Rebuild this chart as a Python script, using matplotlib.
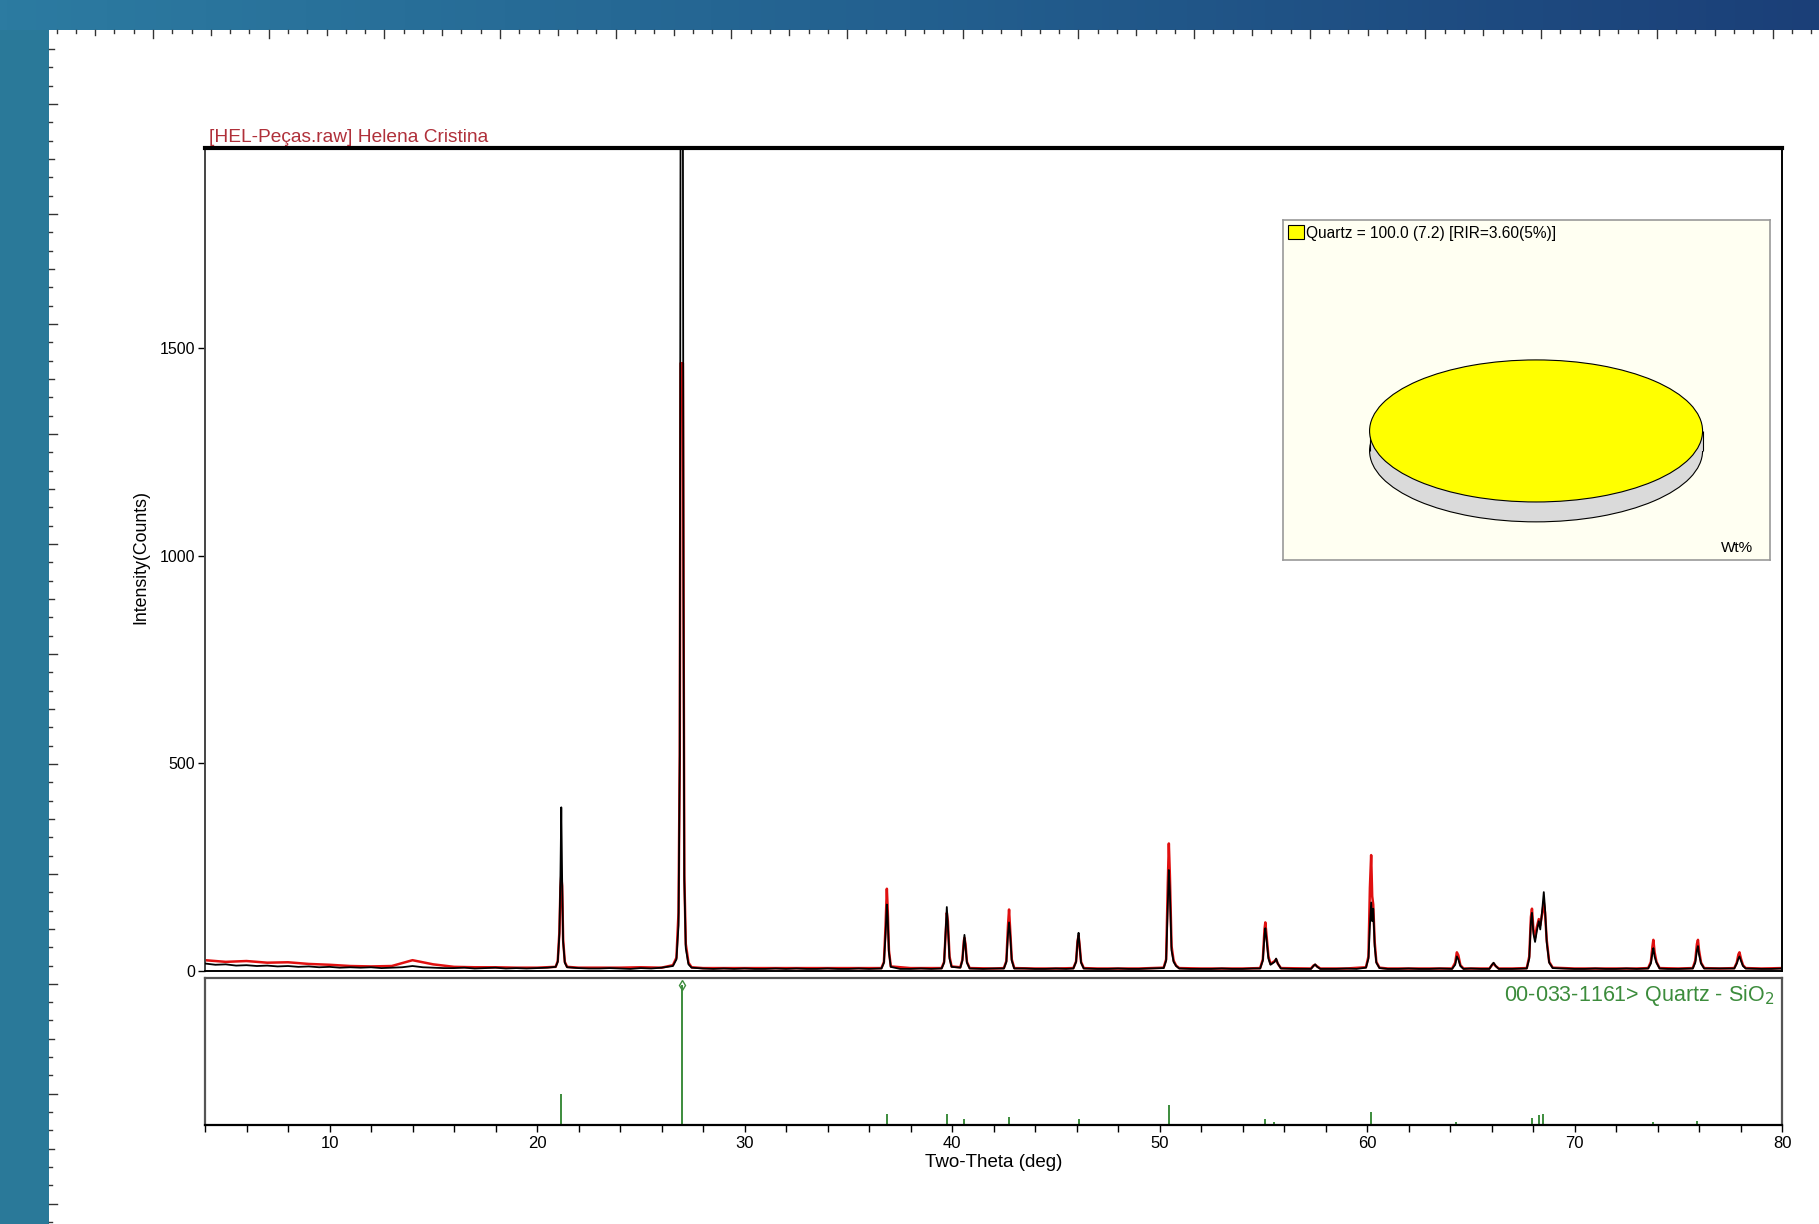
import numpy as np
import matplotlib.pyplot as plt
from matplotlib.patches import Rectangle
from matplotlib.colors import LinearSegmentedColormap

plt.rcParams['font.family'] = ['Liberation Sans', 'DejaVu Sans']

# ---------------- data ----------------
# baseline of the black scan, every 0.5 deg from 4 to 80
base_theta = np.arange(4.0, 80.01, 0.5)
base_black = [18, 15, 16, 13, 14, 12, 13, 11, 12, 10, 11, 9,
              10, 8, 9, 8, 9, 7, 8, 9, 12, 9, 8, 7,
              7, 8, 6, 7, 8, 6, 7, 6, 7, 8, 7, 6,
              7, 6, 6, 7, 6, 5, 7, 6, 8, 6, 6, 7,
              6, 5, 6, 5, 6, 5, 5, 6, 5, 6, 5, 5,
              6, 5, 5, 6, 5, 5, 6, 5, 5, 6, 5, 5,
              5, 6, 5, 5, 6, 5, 5, 6, 5, 5, 6, 5,
              5, 6, 5, 5, 6, 5, 5, 6, 5, 5, 6, 5,
              5, 5, 6, 5, 5, 6, 5, 5, 6, 5, 5, 6,
              5, 5, 6, 5, 5, 6, 5, 5, 6, 5, 5, 6,
              5, 5, 6, 5, 5, 6, 5, 5, 6, 5, 5, 6,
              5, 5, 6, 5, 5, 6, 5, 5, 6, 5, 5, 6,
              5, 5, 6, 5, 5, 6, 5, 5, 6]

# baseline of the red scan, every 1 deg from 4 to 80
red_base_theta = np.arange(4, 81)
base_red = [26, 22, 24, 20, 21, 17, 15, 12, 11, 12,
            26, 16, 10, 9, 9, 8, 8, 8, 8, 8,
            8, 9, 8, 7, 7, 7, 7, 7, 7, 7,
            7, 7, 7, 7, 7, 7, 7, 6, 6, 6,
            6, 6, 6, 6, 6, 6, 6, 6, 6, 6,
            6, 6, 6, 6, 6, 6, 6, 6, 6, 6,
            6, 6, 6, 6, 6, 6, 6, 6, 6, 6,
            6, 6, 6, 6, 6, 6, 7]

# peak profiles (2-theta vertices, black counts, red counts)
peak_theta = [20.9, 21.0, 21.08, 21.13, 21.17, 21.21, 21.26, 21.34, 21.45,
              26.55, 26.72, 26.82, 26.88, 26.92, 27.03, 27.06, 27.1, 27.17, 27.3, 27.45,
              36.6, 36.72, 36.8, 36.86, 36.9, 36.96, 37.05,
              39.5, 39.62, 39.7, 39.75, 39.8, 39.88, 39.98,
              40.4, 40.5, 40.57, 40.6, 40.65, 40.72, 40.85,
              42.5, 42.62, 42.7, 42.75, 42.8, 42.88, 43.0,
              45.85, 45.98, 46.05, 46.1, 46.15, 46.22, 46.35,
              50.2, 50.32, 50.4, 50.45, 50.5, 50.58, 50.68, 50.8, 50.95,
              54.85, 54.98, 55.06, 55.1, 55.16, 55.25, 55.35, 55.55, 55.62, 55.7, 55.85,
              57.3, 57.42, 57.5, 57.6, 57.75,
              59.95, 60.07, 60.14, 60.2, 60.25, 60.3, 60.37, 60.45, 60.6,
              64.1, 64.25, 64.33, 64.4, 64.5, 64.65,
              65.9, 66.02, 66.1, 66.2, 66.35,
              67.7, 67.82, 67.9, 67.95, 68.02, 68.1, 68.18, 68.28, 68.35, 68.45, 68.52,
              68.58, 68.66, 68.78, 68.95,
              73.55, 73.68, 73.76, 73.8, 73.86, 73.95, 74.1,
              75.7, 75.82, 75.9, 75.95, 76.0, 76.1, 76.25,
              77.7, 77.82, 77.9, 77.95, 78.02, 78.12, 78.25]
peak_black = [10, 22, 90, 230, 394, 225, 70, 20, 9,
              12, 28, 110, 520, 2100, 2100, 913, 218, 55, 16, 8,
              6, 20, 90, 160, 130, 45, 10,
              6, 20, 100, 154, 110, 30, 10,
              8, 25, 70, 87, 60, 20, 6,
              6, 22, 90, 117, 90, 25, 6,
              6, 22, 70, 92, 60, 20, 6,
              7, 25, 160, 243, 190, 50, 22, 12, 6,
              6, 25, 85, 103, 75, 30, 15, 22, 30, 18, 6,
              5, 12, 16, 10, 5,
              8, 30, 110, 165, 120, 150, 60, 20, 7,
              5, 15, 35, 28, 12, 5,
              5, 15, 20, 12, 5,
              6, 30, 120, 140, 90, 70, 95, 120, 100, 150, 190,
              150, 70, 20, 7,
              6, 18, 45, 55, 35, 20, 6,
              6, 20, 50, 60, 40, 18, 6,
              6, 18, 30, 35, 25, 12, 6]
peak_red = [10, 24, 95, 200, 229, 205, 75, 22, 10,
            14, 32, 140, 522, 1463, 1463, 913, 230, 65, 20, 9,
            7, 22, 110, 198, 150, 50, 11,
            7, 22, 95, 140, 120, 35, 11,
            9, 27, 72, 80, 65, 22, 7,
            7, 24, 110, 148, 100, 28, 7,
            7, 23, 72, 85, 62, 22, 7,
            8, 28, 210, 307, 230, 60, 25, 13, 7,
            7, 28, 100, 117, 85, 35, 17, 24, 28, 18, 7,
            6, 13, 15, 11, 6,
            9, 35, 200, 279, 180, 160, 70, 22, 8,
            6, 20, 45, 38, 14, 6,
            6, 14, 18, 12, 6,
            7, 35, 130, 150, 100, 80, 105, 125, 110, 140, 165,
            140, 75, 22, 8,
            7, 22, 60, 75, 45, 22, 7,
            7, 25, 65, 75, 50, 20, 7,
            7, 20, 40, 45, 30, 14, 7]

# reference pattern 00-033-1161 Quartz
stick_theta = [21.17, 27.0, 36.87, 39.75, 40.6, 42.75, 46.1, 50.45, 55.1, 55.5,
               57.5, 60.2, 64.3, 67.93, 68.3, 68.5, 73.8, 75.9, 77.9]
stick_int = [22, 100, 8, 8, 4, 6, 4, 14, 4, 2, 1, 9, 2, 5, 7, 8, 2, 3, 1]

phase_names = ['Quartz = 100.0 (7.2) [RIR=3.60(5%)]']
phase_wt = [100.0]

x_ticks = [10, 20, 30, 40, 50, 60, 70, 80]
y_ticks = [0, 500, 1000, 1500]


def merge(bx, by, px, py):
    # drop baseline points that fall inside a peak window
    px = np.asarray(px)
    keep = [i for i, x in enumerate(bx) if np.min(np.abs(px - x)) > 0.3]
    x = np.concatenate([np.asarray(bx, float)[keep], px])
    y = np.concatenate([np.asarray(by, float)[keep], np.asarray(py, float)])
    o = np.argsort(x)
    return x[o], y[o]


bx, by = merge(base_theta, base_black, peak_theta, peak_black)
rx, ry = merge(red_base_theta, base_red, peak_theta, peak_red)

W, H = 1819, 1224
fig = plt.figure(figsize=(W / 100, H / 100), dpi=100)

# slide background with rulers
bg = fig.add_axes([0, 0, 1, 1])
bg.set_xlim(0, W)
bg.set_ylim(H, 0)
bg.axis('off')
grad = np.linspace(0, 1, 256)[None, :]
cm = LinearSegmentedColormap.from_list('band', ['#2C7BA1', '#23608F', '#1B3F78'])
bg.imshow(grad, cmap=cm, extent=(0, W, H, 0), aspect='auto')
bg.add_patch(Rectangle((0, 30), 49, H, color='#2A7999', lw=0))
bg.add_patch(Rectangle((49, 30), W - 49, H - 30, color='white', lw=0))
tx = np.arange(153 - 5 * 19.28, W, 19.28)
for i, x in enumerate(tx):
    k = (i - 5) % 6
    ln = 8 if k == 0 else (5 if k == 3 else 3)
    bg.plot([x, x], [30, 30 + ln], color='#333333', lw=1)
ty = np.arange(104 - 3 * 18.33, H, 18.33)
for i, y in enumerate(ty):
    if y < 36:
        continue
    k = (i - 3) % 6
    ln = 8 if k == 0 else (5 if k == 3 else 3)
    bg.plot([49, 49 + ln], [y, y], color='#333333', lw=1)

# main scan
ax = fig.add_axes([205 / W, 1 - 971 / H, (1782 - 205) / W, (971 - 148.5) / H])
ax.plot(rx, ry, color='#E01010', lw=1.8, zorder=2)
ax.plot(bx, by, color='black', lw=1.3, zorder=3)
ax.set_xlim(4, 80)
ax.set_ylim(0, 1980)
ax.set_xticks([])
ax.set_yticks(y_ticks)
ax.tick_params(axis='y', direction='out', length=5, width=1, labelsize=11.5, pad=2)
ax.spines['top'].set_linewidth(3)
ax.spines['left'].set_color('#444444')
ax.spines['left'].set_linewidth(1.4)
ax.spines['right'].set_linewidth(1.4)
ax.spines['bottom'].set_linewidth(1.4)

fig.text(209 / W, 1 - 137 / H, '[HEL-Peças.raw] Helena Cristina', color='#B0303A',
         fontsize=13.8, ha='left', va='center')
fig.text(141 / W, 1 - 557 / H, 'Intensity(Counts)', rotation=90, fontsize=12.8,
         ha='center', va='center')

# stick pattern
ax2 = fig.add_axes([205 / W, 1 - 1125 / H, (1782 - 205) / W, (1125 - 978) / H])
ax2.vlines(stick_theta, 0, stick_int, color='#3C8C3C', lw=1.4)
ax2.plot([stick_theta[1]], [stick_int[1]], marker='d', mfc='none', mec='#3C8C3C', ms=5, mew=1)
ax2.set_xlim(4, 80)
ax2.set_ylim(0, 105)
ax2.set_yticks([])
ax2.set_xticks(x_ticks)
ax2.set_xticks(np.arange(4, 80, 2), minor=True)
ax2.tick_params(axis='x', which='both', direction='out', length=5, width=1, labelsize=12, pad=3)
for s in ax2.spines.values():
    s.set_color('#555555')
    s.set_linewidth(1.6)
ax2.spines['bottom'].set_color('black')
ax2.text(0.995, 0.88, '00-033-1161> Quartz - SiO$_2$', transform=ax2.transAxes,
         ha='right', va='center', color='#3C8C3C', fontsize=15.5)
ax2.set_xlabel('Two-Theta (deg)', fontsize=13.5, labelpad=2)

# quantitative phase pie
pax = fig.add_axes([1283 / W, 1 - 560 / H, 487 / W, 340 / H])
depth = 0.28
pax.pie(phase_wt, colors=['#DADADA'], center=(0, -depth), startangle=90,
        wedgeprops=dict(edgecolor='black', linewidth=0.8))
pax.add_patch(Rectangle((-1, -depth), 2, depth, color='#DADADA', lw=0, zorder=2))
pax.vlines([-1, 1], -depth, 0, color='black', lw=0.8, zorder=2)
wedges, _ = pax.pie(phase_wt, colors=['#FFFF00'], startangle=90,
                    wedgeprops=dict(edgecolor='black', linewidth=0.8, zorder=3))
pax.set_aspect('auto')
pax.set_xlim(-1.52, 1.405)
pax.set_ylim(-1.817, 2.97)
pax.set_frame_on(True)
pax.set_facecolor('#FFFFF2')
for s in pax.spines.values():
    s.set_color('#999999')
    s.set_linewidth(1.2)
pax.legend(wedges, phase_names, loc='upper left', frameon=False, fontsize=11.2,
           handlelength=1.0, handleheight=1.0, handletextpad=0.15, borderaxespad=0.15,
           borderpad=0.2)
pax.text(0.965, 0.015, 'Wt%', transform=pax.transAxes, ha='right', va='bottom', fontsize=11)

fig.savefig('out.png', dpi=100)
